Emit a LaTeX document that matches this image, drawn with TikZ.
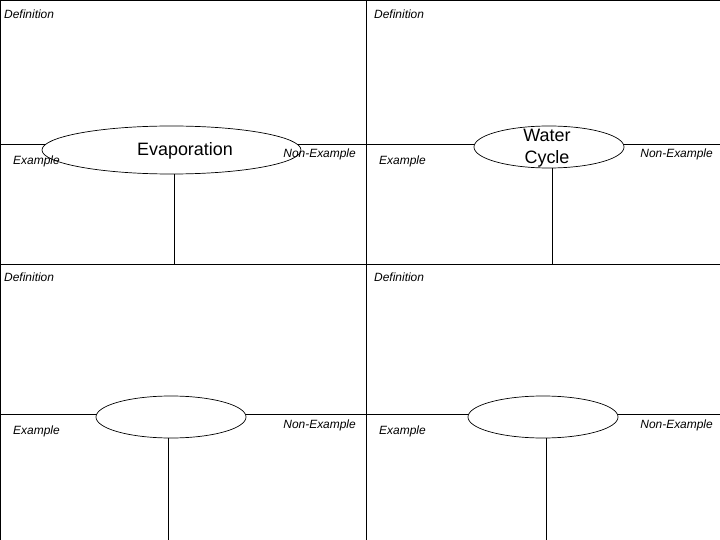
\documentclass[tikz,border=0pt]{standalone}
\usepackage{fontspec}
\setmainfont{Liberation Sans}
\usetikzlibrary{shapes.geometric,positioning}
\tikzset{
  lbl/.style={font=\fontsize{12}{14}\selectfont\itshape, inner sep=0pt},
  word/.style={font=\fontsize{18}{22}\selectfont, align=center, inner sep=0pt},
  term/.style={draw, ellipse, fill=white, inner sep=0pt, line width=0.7pt},
  bigterm/.style={term, minimum width=259bp, minimum height=48bp},
  smallterm/.style={term, minimum width=150bp, minimum height=42bp},
  rule/.style={line width=0.8pt},
}

\begin{document}
\begin{tikzpicture}[x=1bp, y=-1bp]
  \useasboundingbox (0,0) rectangle (720,540);
  % frame and quadrants
  \draw[rule] (0,540) -- (0,0) -- (720,0);
  \draw[rule] (366,0) -- (366,540);
  \draw[rule] (0,264) -- (720,264);
  \draw[rule] (0,144) -- (720,144);
  \draw[rule] (0,414) -- (720,414);
  % feet of the stems
  \coordinate (evapfoot) at (174.5,264);
  \coordinate (waterfoot) at (552,264);
  \coordinate (blankafoot) at (168.5,540);
  \coordinate (blankbfoot) at (546,540);
  % terms
  \node[bigterm] (evap) at (171.5,150) {};
  \node[smallterm] (water) at (549,147) {};
  \node[smallterm] (blanka) at (171,417) {};
  \node[smallterm] (blankb) at (543,417) {};
  \node[word] (evaptxt) at (185,151) {Evaporation};
  \node[word] (watertxt) at (547,148) {Water\\Cycle};
  \draw[rule] (evap.south -| evapfoot) -- (evapfoot);
  \draw[rule] (water.south -| waterfoot) -- (waterfoot);
  \draw[rule] (blanka.south -| blankafoot) -- (blankafoot);
  \draw[rule] (blankb.south -| blankbfoot) -- (blankbfoot);
  % labels
  \node[lbl, anchor=west] (defa) at (4,14) {Definition};
  \node[lbl, anchor=west] (defb) at (374,14) {Definition};
  \node[lbl, anchor=west] (defc) at (4,277) {Definition};
  \node[lbl, anchor=west] (defd) at (374,277) {Definition};
  \node[lbl, anchor=west] (exa) at (13,161) {Example};
  \node[lbl, anchor=west] (exb) at (379,161) {Example};
  \node[lbl, anchor=west] (exc) at (13,431) {Example};
  \node[lbl, anchor=west] (exd) at (379,431) {Example};
  \node[lbl, anchor=east] (nona) at (356,154) {Non-Example};
  \node[lbl, anchor=east] (nonb) at (713,154) {Non-Example};
  \node[lbl, anchor=east] (nonc) at (356,425) {Non-Example};
  \node[lbl, anchor=east] (nond) at (713,425) {Non-Example};
\end{tikzpicture}
\end{document}
